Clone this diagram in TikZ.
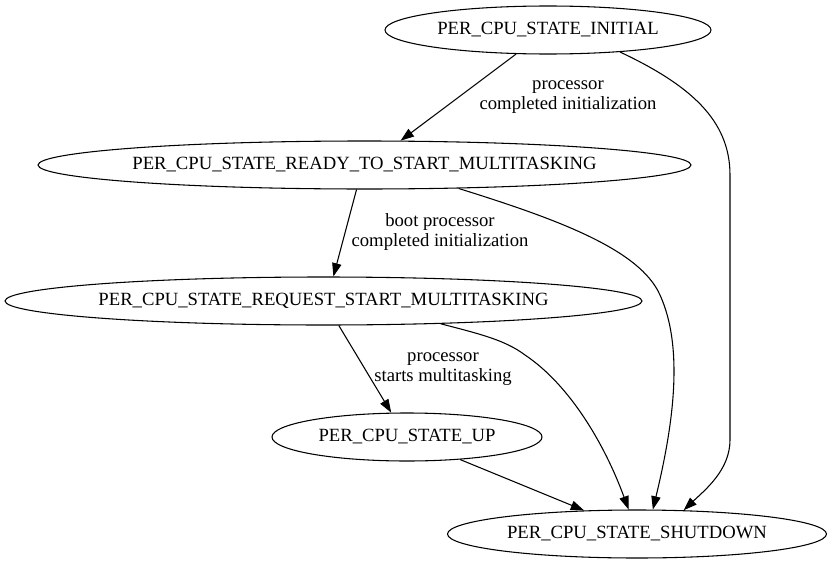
\documentclass[tikz,border=0pt]{standalone}
\usepackage{fontspec}
\setmainfont{Liberation Serif}
\usetikzlibrary{shapes.geometric,arrows.meta}
\tikzset{
  state/.style={ellipse, draw, line width=0.8pt, inner sep=0pt, minimum height=36pt},
  txt/.style={font=\fontsize{14}{15}\selectfont, align=center, inner sep=0pt},
  edge/.style={draw, line width=0.8pt, -{Triangle[length=10pt,width=7pt]}}
}
\begin{document}
\begin{tikzpicture}[x=0.75pt,y=-0.75pt]
\useasboundingbox (0,0) rectangle (832,564);
\node[state, minimum width=244.5pt, label={[txt]center:PER\_CPU\_STATE\_INITIAL}] (init) at (548,30) {};
\node[state, minimum width=489.75pt, label={[txt]center:PER\_CPU\_STATE\_READY\_TO\_START\_MULTITASKING}] (ready) at (364.5,165) {};
\node[state, minimum width=477.75pt, label={[txt]center:PER\_CPU\_STATE\_REQUEST\_START\_MULTITASKING}] (req) at (323.5,301) {};
\node[state, minimum width=202.5pt, label={[txt]center:PER\_CPU\_STATE\_UP}] (up) at (407,437) {};
\node[state, minimum width=284.25pt, label={[txt]center:PER\_CPU\_STATE\_SHUTDOWN}] (shut) at (637,534) {};

\node[txt] (l1) at (568,97) {processor\\completed initialization};
\node[txt] (l2) at (440,232) {boot processor\\completed initialization};
\node[txt] (l3) at (443,369) {processor\\starts multitasking};

\draw[edge] (init.217) -- (ready.34);
\draw[edge] (ready.252.6) -- (req.68.4);
\draw[edge] (req.302) -- (up.123.4);
\draw[edge] (up.337.7) -- (shut.156.9);
\draw[edge] (init.343.4) .. controls (690,85) and (730,120) .. (730,175)
  -- (730,440) .. controls (730,470) and (705,490) .. (shut.27.6);
\draw[edge] (ready.346.5) .. controls (560,220) and (640,250) .. (660,295)
  .. controls (685,350) and (672,430) .. (shut.57.4);
\draw[edge] (req.349.4) .. controls (480,334) and (505,340) .. (525,355)
  .. controls (570,385) and (605,445) .. (shut.109.3);
\end{tikzpicture}
\end{document}
